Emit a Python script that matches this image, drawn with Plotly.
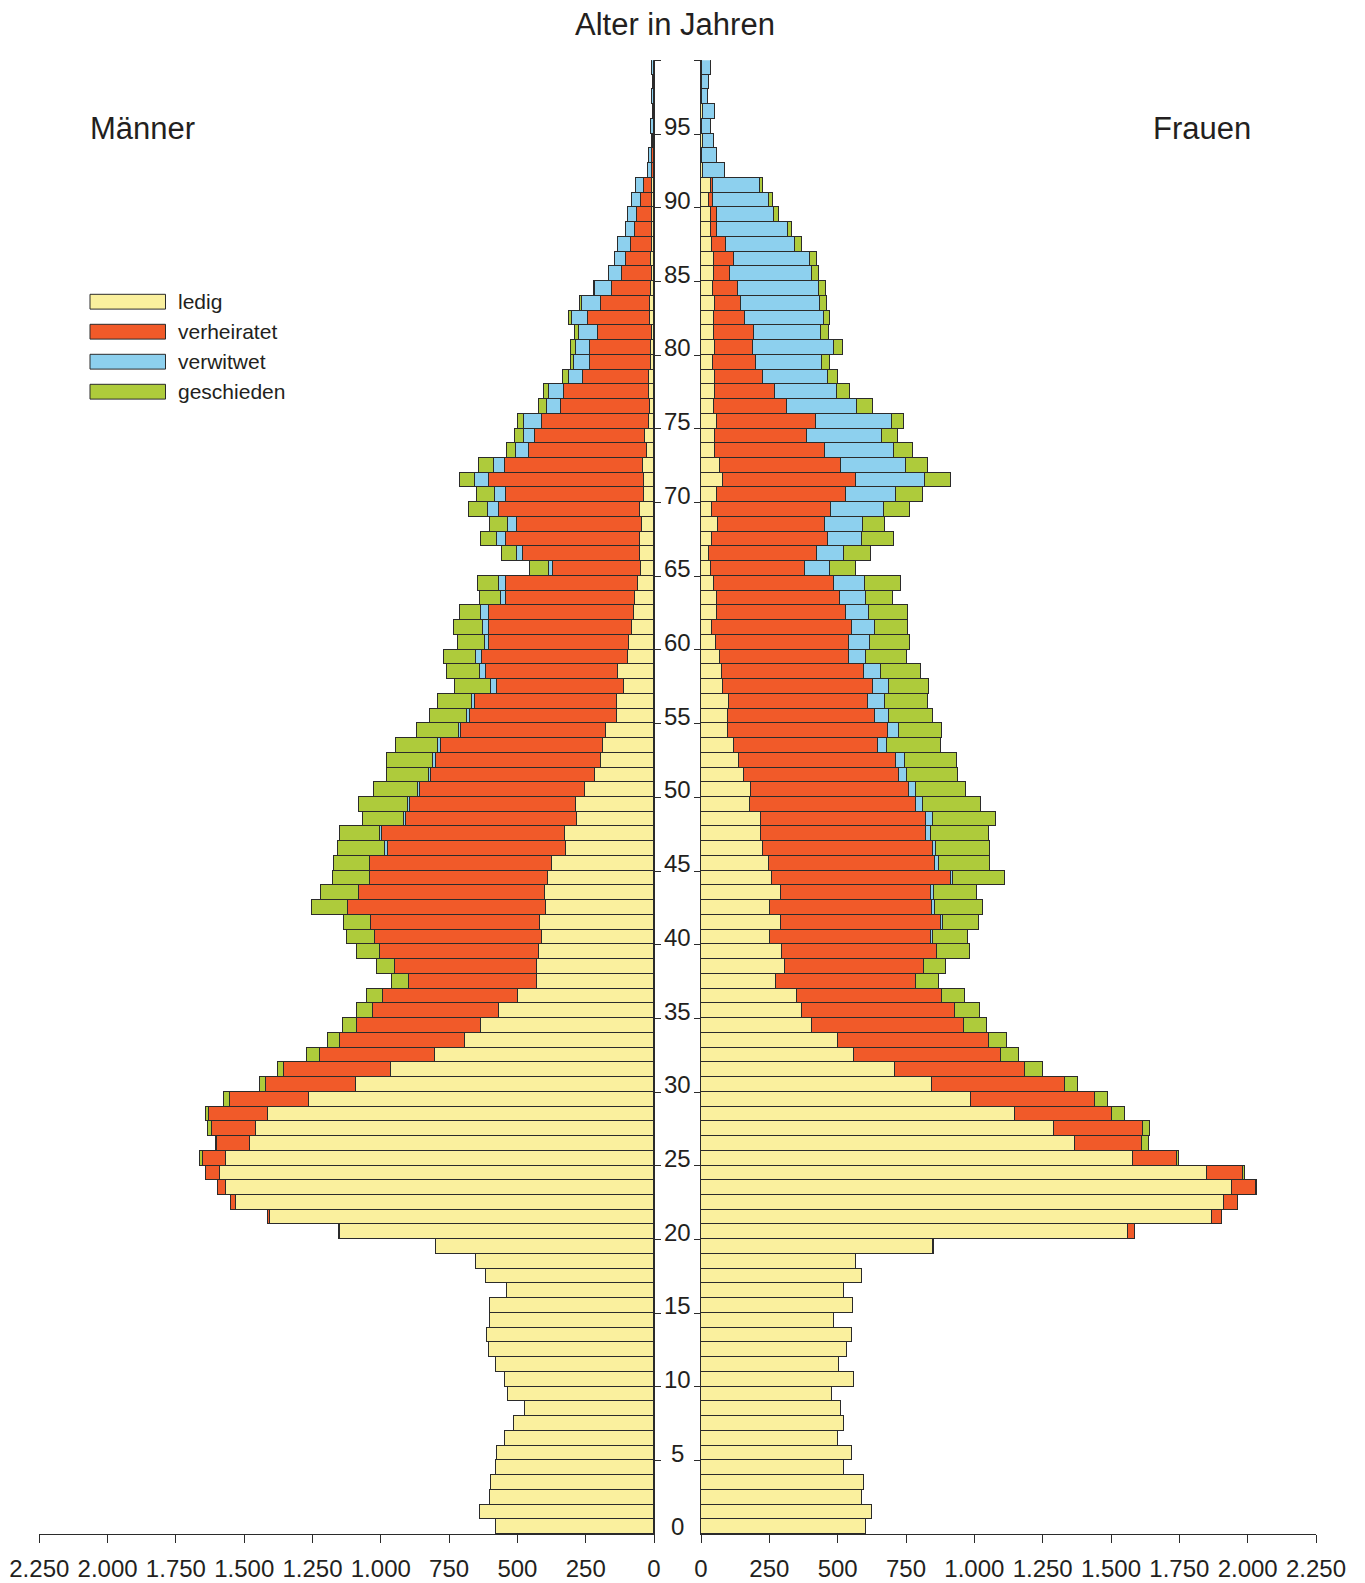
import plotly.graph_objects as go

# Bevölkerung nach Alter, Geschlecht und Familienstand (in Tausend)
ages = list(range(100))

m_ledig = [
    579, 637, 599, 594, 576, 572, 546, 512, 471, 532,
    543, 579, 602, 610, 598, 598, 537, 613, 649, 796,
    1147, 1406, 1530, 1564, 1587, 1566, 1479, 1456, 1412, 1262,
    1091, 961, 799, 690, 631, 567, 497, 426, 429, 419,
    409, 416, 395, 399, 388, 371, 321, 324, 281, 283,
    251, 214, 194, 187, 175, 134, 136, 108, 130, 94,
    90, 79, 72, 69, 57, 45, 49, 51, 43, 49,
    35, 35, 41, 23, 32, 19, 13, 19, 16, 9,
    11, 8, 15, 15, 11, 5, 10, 5, 5, 5,
    5, 5, 0, 0, 0, 0, 0, 0, 0, 0,
]
m_verheiratet = [
    0, 0, 0, 0, 0, 0, 0, 0, 0, 0,
    0, 0, 0, 0, 0, 0, 0, 0, 0, 0,
    5, 7, 18, 29, 52, 85, 118, 162, 216, 290,
    329, 392, 424, 457, 456, 462, 493, 469, 518, 583,
    612, 617, 725, 679, 650, 669, 650, 672, 626, 609,
    604, 601, 603, 592, 532, 538, 518, 467, 485, 536,
    514, 525, 532, 470, 482, 322, 428, 490, 458, 519,
    504, 569, 502, 434, 401, 391, 327, 311, 242, 225,
    222, 197, 225, 179, 140, 111, 92, 78, 62, 56,
    41, 29, 7, 7, 3, 0, 0, 0, 0, 0,
]
m_verwitwet = [
    0, 0, 0, 0, 0, 0, 0, 0, 0, 0,
    0, 0, 0, 0, 0, 0, 0, 0, 0, 0,
    0, 0, 0, 0, 0, 0, 0, 0, 0, 0,
    0, 0, 0, 0, 0, 0, 0, 0, 0, 0,
    0, 0, 0, 0, 0, 0, 11, 5, 7, 6,
    7, 6, 10, 10, 6, 11, 11, 19, 21, 19,
    15, 22, 28, 19, 26, 17, 22, 33, 34, 38,
    41, 50, 41, 47, 40, 64, 49, 52, 51, 57,
    53, 69, 60, 67, 64, 49, 40, 49, 33, 32,
    34, 29, 15, 11, 2, 11, 1, 8, 1, 6,
]
m_geschieden = [
    0, 0, 0, 0, 0, 0, 0, 0, 0, 0,
    0, 0, 0, 0, 0, 0, 0, 0, 0, 0,
    0, 0, 0, 0, 0, 8, 5, 13, 11, 21,
    22, 21, 45, 45, 52, 58, 61, 64, 64, 84,
    103, 100, 130, 139, 135, 132, 173, 148, 149, 180,
    160, 157, 171, 154, 152, 136, 125, 134, 122, 117,
    97, 104, 78, 77, 79, 70, 56, 58, 63, 70,
    66, 56, 57, 33, 36, 23, 32, 21, 24, 13,
    16, 15, 10, 7, 2, 0, 0, 0, 0, 0,
    0, 0, 0, 0, 0, 0, 0, 0, 0, 0,
]

w_ledig = [
    602, 624, 590, 598, 524, 551, 502, 522, 513, 480,
    559, 506, 533, 554, 485, 556, 524, 590, 567, 848,
    1564, 1868, 1912, 1944, 1850, 1580, 1369, 1293, 1150, 989,
    844, 709, 559, 501, 405, 371, 352, 276, 306, 296,
    254, 294, 254, 294, 261, 248, 228, 221, 219, 180,
    182, 159, 139, 120, 97, 100, 101, 80, 78, 70,
    56, 41, 57, 58, 47, 35, 30, 39, 61, 41,
    58, 80, 68, 52, 50, 57, 46, 50, 53, 43,
    53, 46, 46, 53, 43, 49, 49, 39, 35, 35,
    28, 35, 9, 5, 9, 3, 7, 2, 4, 2,
]
w_verheiratet = [
    0, 0, 0, 0, 0, 0, 0, 0, 0, 0,
    0, 0, 0, 0, 0, 0, 0, 0, 0, 6,
    22, 37, 51, 87, 134, 161, 246, 325, 354, 453,
    486, 478, 538, 553, 557, 559, 530, 511, 509, 568,
    586, 583, 590, 546, 652, 608, 621, 601, 605, 605,
    578, 564, 573, 526, 587, 537, 510, 548, 519, 471,
    486, 512, 473, 451, 440, 345, 395, 427, 394, 436,
    474, 486, 445, 403, 336, 362, 270, 222, 174, 159,
    136, 147, 114, 94, 92, 57, 73, 53, 24, 22,
    15, 10, 0, 0, 0, 0, 0, 0, 0, 0,
]
w_verwitwet = [
    0, 0, 0, 0, 0, 0, 0, 0, 0, 0,
    0, 0, 0, 0, 0, 0, 0, 0, 0, 0,
    0, 0, 0, 0, 0, 0, 0, 0, 0, 0,
    0, 0, 0, 0, 0, 0, 0, 0, 0, 0,
    7, 10, 11, 11, 10, 13, 11, 21, 24, 29,
    28, 29, 34, 36, 40, 52, 63, 58, 62, 61,
    78, 85, 85, 94, 114, 91, 98, 124, 139, 191,
    182, 253, 238, 252, 277, 278, 255, 226, 236, 241,
    299, 247, 289, 290, 295, 300, 278, 253, 259, 211,
    204, 172, 79, 53, 39, 35, 43, 24, 27, 34,
]
w_geschieden = [
    0, 0, 0, 0, 0, 0, 0, 0, 0, 0,
    0, 0, 0, 0, 0, 0, 0, 0, 0, 0,
    0, 0, 0, 3, 5, 7, 23, 24, 46, 46,
    50, 64, 68, 66, 85, 89, 83, 85, 83, 120,
    128, 129, 175, 160, 191, 187, 199, 211, 232, 211,
    182, 190, 190, 196, 159, 158, 158, 147, 145, 151,
    145, 119, 142, 98, 132, 95, 100, 115, 80, 95,
    97, 94, 81, 68, 56, 47, 57, 47, 39, 29,
    32, 28, 22, 23, 26, 27, 24, 24, 15, 17,
    15, 11, 0, 0, 0, 0, 0, 0, 0, 0,
]

status_names = ["ledig", "verheiratet", "verwitwet", "geschieden"]
status_colors = ["#FAF09E", "#F15A29", "#8DD0EE", "#AECB3B"]
x_tick_vals = [0, 250, 500, 750, 1000, 1250, 1500, 1750, 2000, 2250]
x_tick_text = ["0", "250", "500", "750", "1.000", "1.250", "1.500", "1.750", "2.000", "2.250"]
age_label_vals = list(range(0, 100, 5))
age_tick_vals = [a + 4.5 for a in range(0, 100, 5)]

men = [m_ledig, m_verheiratet, m_verwitwet, m_geschieden]
women = [w_ledig, w_verheiratet, w_verwitwet, w_geschieden]

W, H = 1365, 1583
EDGE = "#2b2b2b"
TEXT = "#231f20"
FONT = "Liberation Sans, Arial, sans-serif"


def px(x):
    return x / W


def py(y):
    return 1 - y / H


y_domain = [py(1534.3), py(60.3)]

fig = go.Figure()
for name, color, mv, wv in zip(status_names, status_colors, men, women):
    fig.add_trace(go.Bar(
        y=ages, x=mv, orientation="h", width=1, name=name,
        xaxis="x", yaxis="y", showlegend=False,
        marker=dict(color=color, line=dict(color=EDGE, width=1)),
    ))
    fig.add_trace(go.Bar(
        y=ages, x=wv, orientation="h", width=1, name=name,
        xaxis="x2", yaxis="y2", showlegend=False,
        marker=dict(color=color, line=dict(color=EDGE, width=1)),
    ))

x_common = dict(
    showline=True, linecolor=EDGE, linewidth=1,
    ticks="outside", ticklen=8, tickcolor=EDGE, tickwidth=1,
    tickvals=x_tick_vals, ticktext=x_tick_text, ticklabelstandoff=5,
    tickfont=dict(family=FONT, size=24, color=TEXT),
    showgrid=False, zeroline=False, fixedrange=True, automargin=False,
)
y_common = dict(
    range=[-0.5, 99.5], domain=y_domain,
    showline=True, linecolor=EDGE, linewidth=1,
    ticks="outside", ticklen=6, tickcolor=EDGE, tickwidth=1,
    tickvals=age_tick_vals, showticklabels=False,
    showgrid=False, zeroline=False, fixedrange=True, automargin=False,
)

fig.update_layout(
    width=W, height=H, autosize=False,
    margin=dict(l=0, r=0, t=0, b=0, autoexpand=False),
    paper_bgcolor="white", plot_bgcolor="white",
    barmode="stack", bargap=0,
    font=dict(family=FONT, color=TEXT),
    xaxis=dict(domain=[px(39.3), px(654)], range=[2250, 0], anchor="y", **x_common),
    xaxis2=dict(domain=[px(701), px(1316)], range=[0, 2250], anchor="y2", **x_common),
    yaxis=dict(anchor="x", side="right", **y_common),
    yaxis2=dict(anchor="x2", side="left", **y_common),
)

annotations = []
for a in age_label_vals:
    annotations.append(dict(
        x=px(677.5), xref="paper", y=a, yref="y", text=str(a),
        showarrow=False, xanchor="center", yanchor="middle",
        font=dict(family=FONT, size=24, color=TEXT),
    ))

annotations += [
    dict(x=px(674.5), y=py(24), xref="paper", yref="paper", text="Alter in Jahren",
         showarrow=False, xanchor="center", yanchor="middle",
         font=dict(family=FONT, size=31, color=TEXT)),
    dict(x=px(88), y=py(128), xref="paper", yref="paper", text="Männer",
         showarrow=False, xanchor="left", yanchor="middle",
         font=dict(family=FONT, size=31, color=TEXT)),
    dict(x=px(1151), y=py(128), xref="paper", yref="paper", text="Frauen",
         showarrow=False, xanchor="left", yanchor="middle",
         font=dict(family=FONT, size=31, color=TEXT)),
]

# Legende: Farbfelder mit Beschriftung
shapes = []
legend_top = 294.3
legend_step = 30.0
for i, (name, color) in enumerate(zip(status_names, status_colors)):
    y0 = legend_top + i * legend_step
    y1 = y0 + 14.8
    shapes.append(dict(
        type="rect", xref="paper", yref="paper",
        x0=px(90), x1=px(165.5), y0=py(y1), y1=py(y0),
        fillcolor=color, line=dict(color=EDGE, width=1),
    ))
    annotations.append(dict(
        x=px(176), y=py((y0 + y1) / 2), xref="paper", yref="paper", text=name,
        showarrow=False, xanchor="left", yanchor="middle",
        font=dict(family=FONT, size=21, color=TEXT),
    ))

fig.update_layout(annotations=annotations, shapes=shapes)

fig.write_html("out.html", config={"displayModeBar": False})
